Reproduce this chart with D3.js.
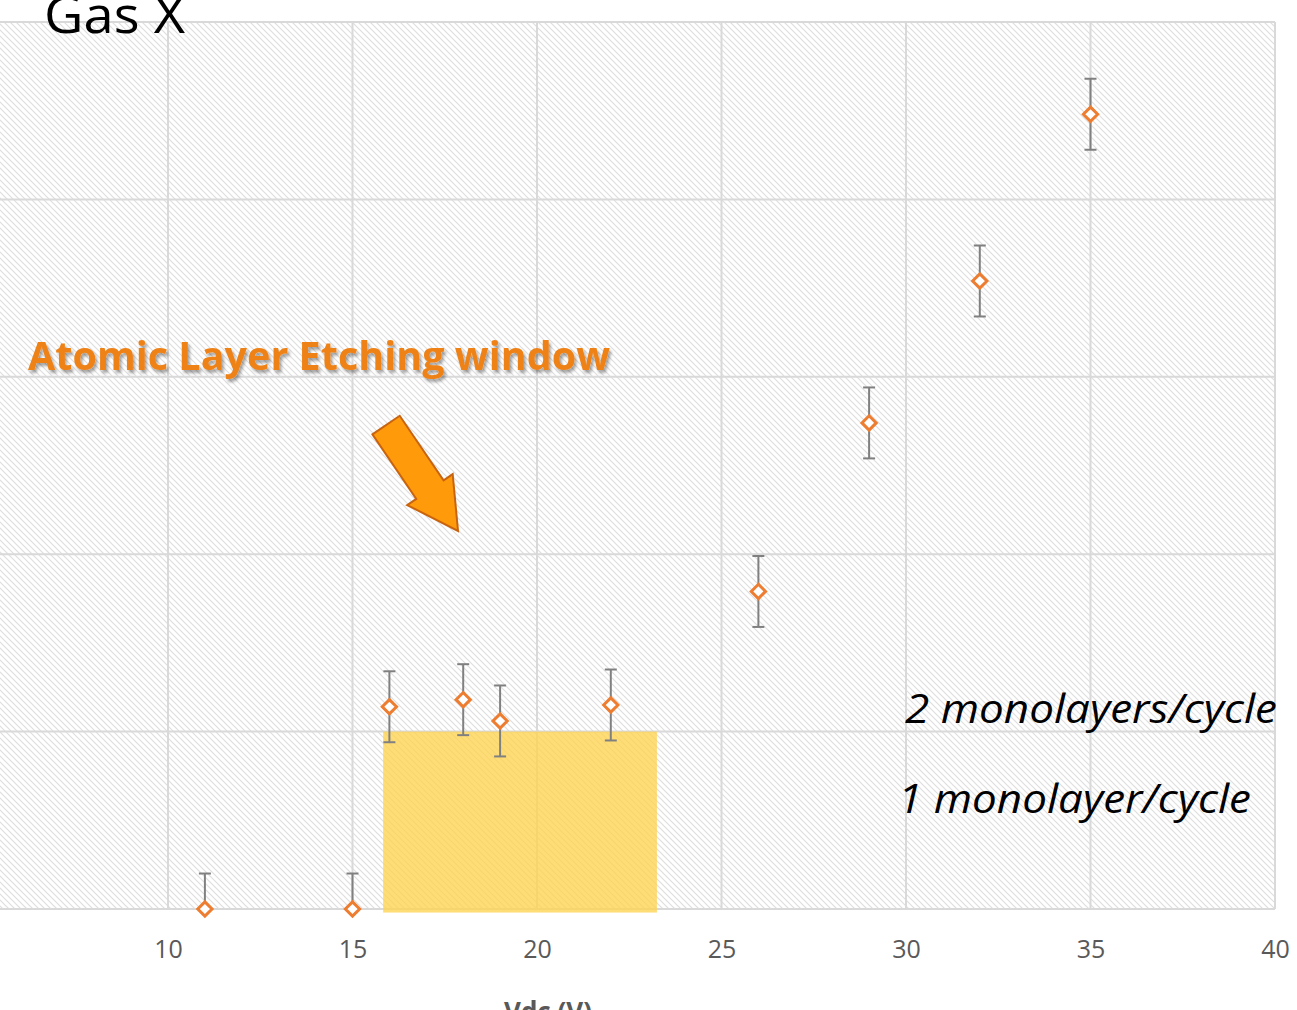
<!DOCTYPE html>
<html><head><meta charset="utf-8">
<script src="https://cdn.jsdelivr.net/npm/d3@7"></script>
<style>html,body{margin:0;padding:0;background:#fff;overflow:hidden}</style>
</head><body>
<svg id="c" width="1297" height="1010"></svg>
<script>
// ---- data ----
const vdc      = [11, 15, 16, 18, 19, 22, 26, 29, 32, 35];
const etchRate = [0, 0, 1.14, 1.18, 1.06, 1.15, 1.79, 2.74, 3.54, 4.48];
const errBar   = [0.2, 0.2, 0.2, 0.2, 0.2, 0.2, 0.2, 0.2, 0.2, 0.2];
const xTicks   = [10, 15, 20, 25, 30, 35, 40];
const yGrid    = [0, 1, 2, 3, 4, 5];
const xDomain  = [5, 40];
const yDomain  = [0, 5];
const windowX  = [15.83, 23.25];
const windowY  = [-0.02, 1];
const arrowFrom = [15.91, 2.728];
const arrowTo   = [17.86, 2.131];

const svg = d3.select("#c");
const x = d3.scaleLinear().domain(xDomain).range([-16.5, 1275]);
const y = d3.scaleLinear().domain(yDomain).range([909, 22]);

const defs = svg.append("defs");
defs.append("pattern").attr("id","hatch").attr("patternUnits","userSpaceOnUse")
  .attr("width",6).attr("height",6)
  .append("path").attr("d","M0,0L6,6M-1,5L1,7M5,-1L7,1")
  .attr("stroke","#dedede").attr("stroke-width",1.2);
defs.append("clipPath").attr("id","plotclip").append("rect")
  .attr("x",x(xDomain[0])).attr("y",y(yDomain[1]))
  .attr("width",x(xDomain[1])-x(xDomain[0])).attr("height",y(yDomain[0])-y(yDomain[1]));
const sh = defs.append("filter").attr("id","shadow").attr("x","-5%").attr("y","-20%").attr("width","110%").attr("height","150%");
sh.append("feDropShadow").attr("dx",2).attr("dy",3).attr("stdDeviation",1.5).attr("flood-color","#000").attr("flood-opacity",0.35);

// background hatch
svg.append("rect").attr("x",x(xDomain[0])).attr("y",y(yDomain[1]))
  .attr("width",x(xDomain[1])-x(xDomain[0])).attr("height",y(yDomain[0])-y(yDomain[1]))
  .attr("fill","url(#hatch)");

// grid
svg.append("g").selectAll("line").data(yGrid).join("line")
  .attr("x1",x(xDomain[0])).attr("x2",x(xDomain[1]))
  .attr("y1",d=>y(d)).attr("y2",d=>y(d))
  .attr("stroke","#d9d9d9").attr("stroke-width",2);
svg.append("g").selectAll("line").data(xTicks).join("line")
  .attr("x1",d=>x(d)).attr("x2",d=>x(d))
  .attr("y1",y(yDomain[0])).attr("y2",y(yDomain[1]))
  .attr("stroke","#d9d9d9").attr("stroke-width",2);

// x axis labels
const xAxis = d3.axisBottom(x).tickValues(xTicks).tickSize(0).tickPadding(31);
const gx = svg.append("g").attr("transform",`translate(0,${y(0)})`).call(xAxis);
gx.select(".domain").remove();
gx.selectAll("text").attr("font-family","'Open Sans',sans-serif").attr("font-size",25).attr("fill","#595959");

// window rectangle
svg.append("rect").attr("x",x(windowX[0])).attr("y",y(windowY[1]))
  .attr("width",x(windowX[1])-x(windowX[0])).attr("height",y(windowY[0])-y(windowY[1]))
  .attr("fill","#FFD34F").attr("opacity",0.78);

// error bars + markers
const pts = vdc.map((v,i)=>({x:v,y:etchRate[i],e:errBar[i]}));
const g = svg.append("g").attr("clip-path","url(#plotclip)");
const eb = g.selectAll("g.eb").data(pts).join("g");
eb.append("line").attr("x1",d=>x(d.x)).attr("x2",d=>x(d.x))
  .attr("y1",d=>y(d.y-d.e)).attr("y2",d=>y(d.y+d.e))
  .attr("stroke","#808080").attr("stroke-width",2);
eb.append("line").attr("x1",d=>x(d.x)-6).attr("x2",d=>x(d.x)+6)
  .attr("y1",d=>y(d.y+d.e)).attr("y2",d=>y(d.y+d.e))
  .attr("stroke","#808080").attr("stroke-width",2);
eb.append("line").attr("x1",d=>x(d.x)-6).attr("x2",d=>x(d.x)+6)
  .attr("y1",d=>y(d.y-d.e)).attr("y2",d=>y(d.y-d.e))
  .attr("stroke","#808080").attr("stroke-width",2);
svg.append("g").selectAll("path").data(pts).join("path")
  .attr("d",d3.symbol(d3.symbolDiamond2, 130))
  .attr("transform",d=>`translate(${x(d.x)},${y(d.y)})`)
  .attr("fill","#fff").attr("stroke","#ED7D31").attr("stroke-width",3);

// arrow
(function(){
  const x0=x(arrowFrom[0]), y0=y(arrowFrom[1]), x1=x(arrowTo[0]), y1=y(arrowTo[1]);
  const dx=x1-x0, dy=y1-y0, L=Math.hypot(dx,dy), ux=dx/L, uy=dy/L, nx=-uy, ny=ux;
  const sw=16.5, hw=27.5, hl=50;
  const bx=x1-ux*hl, by=y1-uy*hl;
  const P=[[x0+nx*sw,y0+ny*sw],[bx+nx*sw,by+ny*sw],[bx+nx*hw,by+ny*hw],[x1,y1],
           [bx-nx*hw,by-ny*hw],[bx-nx*sw,by-ny*sw],[x0-nx*sw,y0-ny*sw]];
  svg.append("path").attr("d","M"+P.map(p=>p.join(",")).join("L")+"Z")
    .attr("fill","#FF9A0A").attr("stroke","#C8640F").attr("stroke-width",2).attr("stroke-linejoin","miter");
})();

// annotations
svg.append("text").attr("x",28).attr("y",370).attr("textLength",582).attr("lengthAdjust","spacingAndGlyphs")
  .attr("font-family","'Open Sans',sans-serif").attr("font-weight",700).attr("font-size",40)
  .attr("fill","#EE8218").attr("filter","url(#shadow)").text("Atomic Layer Etching window");
svg.append("text").attr("x",905).attr("y",723).attr("textLength",372).attr("lengthAdjust","spacingAndGlyphs")
  .attr("font-family","'Open Sans',sans-serif").attr("font-style","italic").attr("font-size",40)
  .attr("fill","#000").text("2 monolayers/cycle");
svg.append("text").attr("x",898).attr("y",813).attr("textLength",353).attr("lengthAdjust","spacingAndGlyphs")
  .attr("font-family","'Open Sans',sans-serif").attr("font-style","italic").attr("font-size",40)
  .attr("fill","#000").text("1 monolayer/cycle");

// title and axis title (cropped at the edges, as in the reference)
svg.append("text").attr("x",44).attr("y",33).attr("textLength",141).attr("lengthAdjust","spacingAndGlyphs")
  .attr("font-family","'Open Sans',sans-serif").attr("font-size",52).attr("fill","#000").text("Gas X");
svg.append("text").attr("x",548).attr("y",1021).attr("text-anchor","middle")
  .attr("font-family","'Open Sans',sans-serif").attr("font-weight",700).attr("font-size",26)
  .attr("fill","#595959").text("Vdc (V)");
</script>
</body></html>
